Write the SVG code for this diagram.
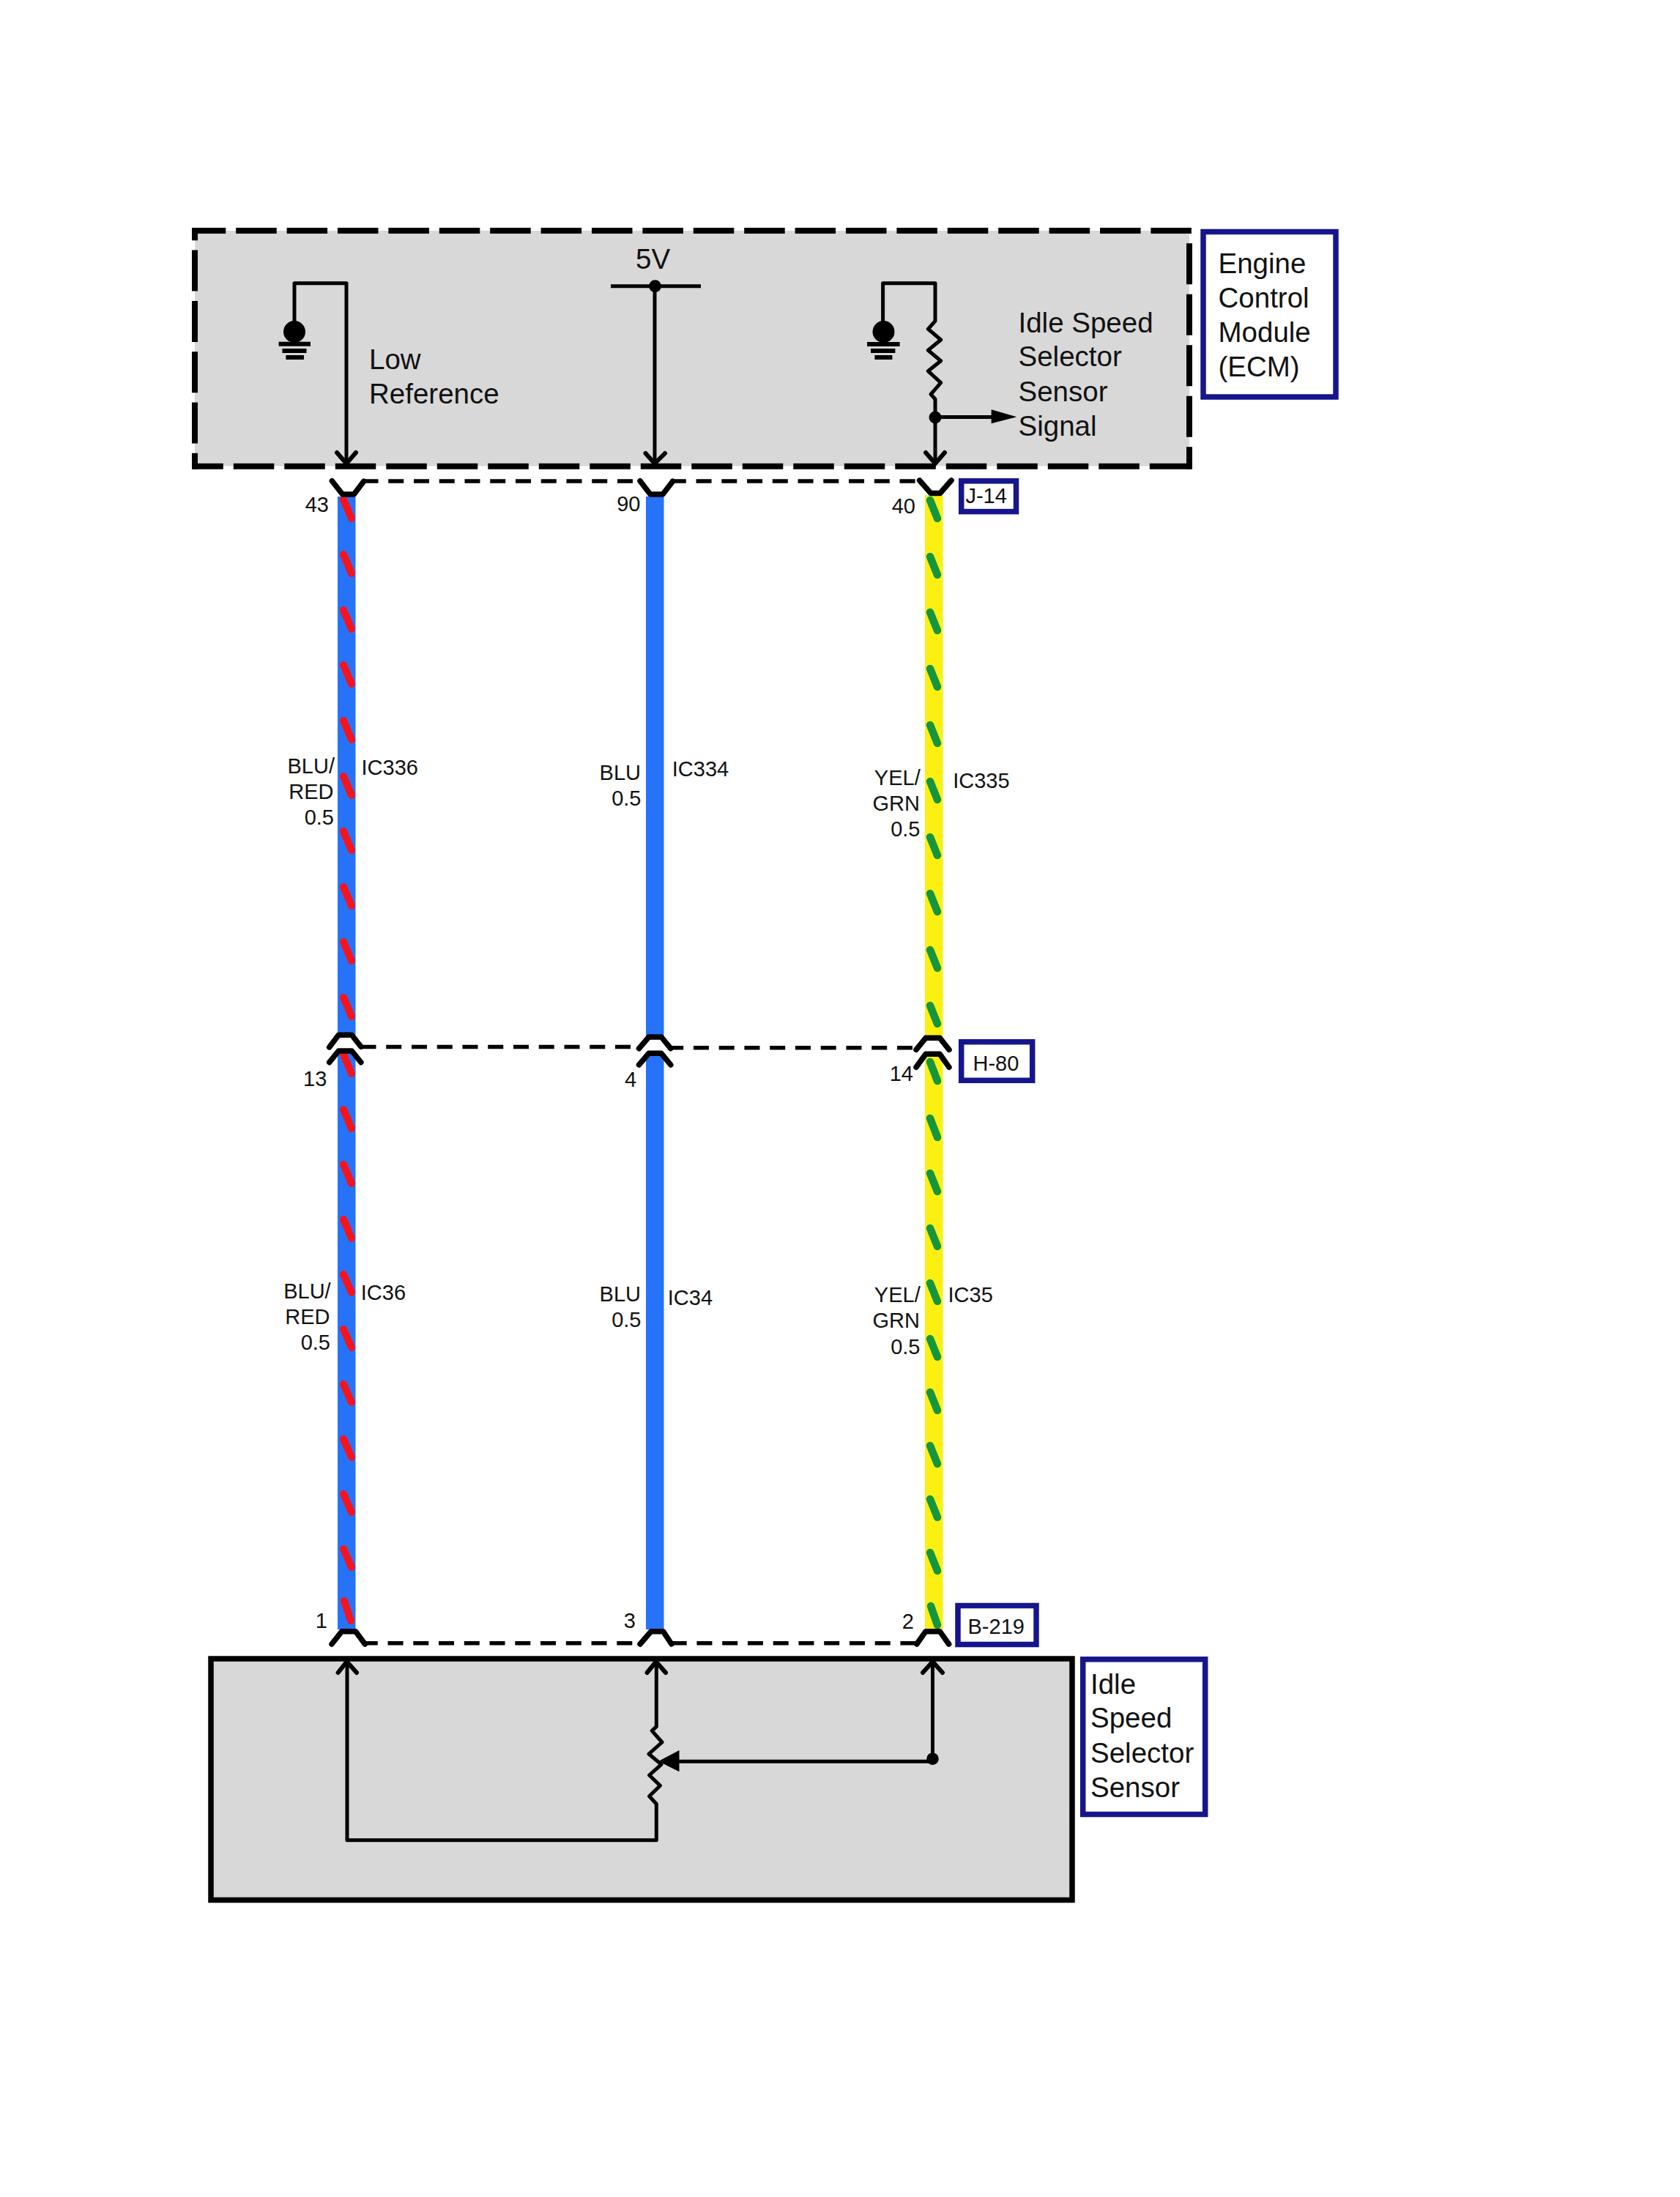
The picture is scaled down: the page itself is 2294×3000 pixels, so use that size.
<svg xmlns="http://www.w3.org/2000/svg" width="2294" height="3000" viewBox="0 0 2294 3000">
<style>
text{font-family:"Liberation Sans",Arial,sans-serif;fill:#111}
.lg{font-size:38.5px}
.sm{font-size:29px}
.e{text-anchor:end}
.ln{fill:none;stroke:#000;stroke-width:5;stroke-linejoin:round}
.hd{fill:none;stroke:#000;stroke-width:6;stroke-linecap:round;stroke-linejoin:miter}
.ch{fill:none;stroke:#000;stroke-width:7.5;stroke-linecap:round;stroke-linejoin:round}
.ds{fill:none;stroke:#000;stroke-width:5.5;stroke-dasharray:21 13.75}
.bd{fill:none;stroke:#000;stroke-width:8}
.tag{fill:#fff;stroke:#16168c;stroke-width:7.5}
.blue{fill:#2673fa}
.yel{fill:#fbf011}
.r{stroke:#f5141e;stroke-width:10;stroke-linecap:round}
.g{stroke:#15963c;stroke-width:10.5;stroke-linecap:round}
</style>
<rect width="2294" height="3000" fill="#fff"/>

<g id="connectors">
<g id="wire-1">
<rect class="blue" x="461" y="678" width="24.5" height="736"/>
<rect class="blue" x="461" y="1435" width="24.5" height="790"/>
<path class="r" d="M469 682L480 708M469 757L480 783M469 833L480 859M469 908L480 934M469 984L480 1010M469 1060L480 1086M469 1135L480 1161M469 1211L480 1237M469 1286L480 1312M469 1362L480 1388"/>
<path class="r" d="M469 1440L480 1466M469 1515L480 1541M469 1590L480 1616M469 1665L480 1691M469 1740L480 1765M469 1815L480 1840M469 1890L480 1915M469 1965L480 1990M469 2040L480 2065M469 2115L480 2140M470 2186L479 2213"/>
</g>
<g id="wire-2">
<rect class="blue" x="882" y="678" width="24.5" height="738"/>
<rect class="blue" x="882" y="1438" width="24.5" height="787"/>
</g>
<g id="wire-3">
<rect class="yel" x="1263" y="676" width="24.5" height="741"/>
<rect class="yel" x="1263" y="1439" width="24.5" height="786"/>
<path class="g" d="M1270 683L1280 708M1270 760L1280 785M1270 836L1280 861M1270 913L1280 938M1270 990L1280 1015M1270 1067L1280 1092M1270 1143L1280 1168M1270 1220L1280 1245M1270 1297L1280 1322M1270 1373L1280 1398"/>
<path class="g" d="M1270 1450L1280 1476M1270 1527L1280 1553M1270 1602L1280 1627M1270 1677L1280 1702M1270 1752L1280 1777M1270 1828L1280 1853M1270 1901L1280 1926M1270 1974L1280 1999M1270 2047L1280 2072M1270 2120L1280 2145M1271 2193L1280 2219"/>
</g>
</g>

<g id="ecm">
<rect x="266" y="315" width="1358" height="321.5" fill="#d8d8d8"/>
<line class="bd" x1="262.3" y1="315" x2="1628" y2="315" stroke-dasharray="55.5 13.9" stroke-dashoffset="9.5"/>
<line class="bd" x1="262.3" y1="636.7" x2="1628" y2="636.7" stroke-dasharray="55.5 14" stroke-dashoffset="13"/>
<line class="bd" x1="266" y1="311" x2="266" y2="640.7" stroke-dasharray="56 13.3" stroke-dashoffset="38.7"/>
<line class="bd" x1="1624" y1="332.3" x2="1624" y2="640.7" stroke-dasharray="56 13.5"/>

<path class="ln" d="M402 445V386.7H473V632"/>
<path class="hd" d="M460 618L473 633L486 618"/>
<circle cx="402" cy="453" r="15"/>
<rect x="380.6" y="466.7" width="43.4" height="6"/>
<rect x="385.5" y="476" width="33" height="6"/>
<rect x="390.4" y="485" width="24.6" height="6"/>
<text class="lg" x="504" y="504.3">Low</text>
<text class="lg" x="504" y="551">Reference</text>

<text class="lg" x="868" y="367">5V</text>
<path class="ln" d="M834 390.7H957M894 390.7V632"/>
<circle cx="894.5" cy="390.7" r="8.5"/>
<path class="hd" d="M881.5 619L894 633L908 619"/>

<path class="ln" d="M1205.6 445V386.7H1277V438.3L1267.3 449.3L1284.7 464L1267.3 478.3L1284.7 492.7L1267.3 506.7L1284.7 522.7L1271 538.3L1277 545V632"/>
<circle cx="1206.5" cy="453" r="15"/>
<rect x="1184" y="467" width="44.6" height="6"/>
<rect x="1189" y="476" width="33.4" height="6"/>
<rect x="1194.4" y="485" width="24" height="6"/>
<circle cx="1277" cy="570" r="8.5"/>
<path class="ln" d="M1277 569.5H1356"/>
<polygon points="1353.6,559.3 1388.3,569.3 1353.6,578.3"/>
<path class="hd" d="M1264 618L1277 633L1290 618"/>
<text class="lg" x="1390.5" y="453.7">Idle Speed</text>
<text class="lg" x="1390.5" y="500.3">Selector</text>
<text class="lg" x="1390.5" y="547.7">Sensor</text>
<text class="lg" x="1390.5" y="595">Signal</text>
</g>

<g id="ecm-label">
<rect class="tag" x="1643" y="316.5" width="181" height="225.5"/>
<text class="lg" x="1663.5" y="372.7">Engine</text>
<text class="lg" x="1663.5" y="420">Control</text>
<text class="lg" x="1663.5" y="467">Module</text>
<text class="lg" x="1663.5" y="514.3">(ECM)</text>
</g>

<g id="J-14">
<path class="ch" d="M453.4 656.7L467.7 675H483.3L496.7 657.3"/>
<path class="ch" d="M874 656.7L888 675H905L918.6 657.3"/>
<path class="ch" d="M1255.6 656L1271 673.5H1283.7L1299 656"/>
<line class="ds" x1="495.5" y1="657" x2="872" y2="657"/>
<line class="ds" x1="915.8" y1="657" x2="1253" y2="657"/>
<rect class="tag" x="1312.7" y="656.8" width="74.8" height="41.8"/>
<text class="sm" x="1318.4" y="686.7">J-14</text>
<text class="sm e" x="449" y="699.3">43</text>
<text class="sm e" x="874.5" y="697.7">90</text>
<text class="sm e" x="1250" y="701">40</text>
</g>

<g id="H-80">
<path class="ch" d="M449.7 1430L462.3 1413.3H480.3L492.9 1429.3"/>
<path class="ch" d="M449.7 1450.7L462.3 1435H480.3L492.9 1450.7"/>
<path class="ch" d="M872.5 1431.7L886 1416H903L915.8 1431.7"/>
<path class="ch" d="M872.5 1454L886 1438.3H903L915.8 1454"/>
<path class="ch" d="M1251 1433.3L1264 1417.3H1283.3L1296 1433.3"/>
<path class="ch" d="M1251 1457.3L1264 1439.3H1283.3L1296 1457.3"/>
<line class="ds" x1="492.5" y1="1429.5" x2="870" y2="1429.5"/>
<line class="ds" x1="912.2" y1="1430.7" x2="1248" y2="1430.7"/>
<rect class="tag" x="1312.7" y="1422.7" width="97" height="52.6"/>
<text class="sm" x="1328.5" y="1461.7">H-80</text>
<text class="sm e" x="446.3" y="1482.7">13</text>
<text class="sm e" x="869.2" y="1484.3">4</text>
<text class="sm e" x="1247" y="1476">14</text>
</g>

<g id="B-219">
<path class="ch" d="M453 2245L466.7 2227.7H485.6L498.4 2245"/>
<path class="ch" d="M874 2245L889 2227.7H905.5L917 2245"/>
<path class="ch" d="M1251.8 2245L1264 2227.7H1283.3L1295.6 2245"/>
<line class="ds" x1="494.8" y1="2243.7" x2="866" y2="2243.7"/>
<line class="ds" x1="916.7" y1="2243.7" x2="1252" y2="2243.7"/>
<rect class="tag" x="1308" y="2192.5" width="107" height="53"/>
<text class="sm" x="1321.5" y="2231">B-219</text>
<text class="sm e" x="447" y="2222.7">1</text>
<text class="sm e" x="868" y="2223">3</text>
<text class="sm e" x="1248" y="2224">2</text>
</g>

<g id="wire-labels">
<text class="sm e" x="457" y="1056">BLU/</text>
<text class="sm e" x="455.5" y="1091">RED</text>
<text class="sm e" x="456" y="1126">0.5</text>
<text class="sm" x="493.5" y="1058.3">IC336</text>
<text class="sm e" x="875" y="1065.3">BLU</text>
<text class="sm e" x="875.5" y="1100.3">0.5</text>
<text class="sm" x="917.8" y="1060.3">IC334</text>
<text class="sm e" x="1256.7" y="1072">YEL/</text>
<text class="sm e" x="1256" y="1106.7">GRN</text>
<text class="sm e" x="1256.5" y="1142">0.5</text>
<text class="sm" x="1301.2" y="1076.3">IC335</text>
<text class="sm e" x="451.7" y="1772.7">BLU/</text>
<text class="sm e" x="450.5" y="1807.7">RED</text>
<text class="sm e" x="451" y="1842.7">0.5</text>
<text class="sm" x="492.8" y="1775">IC36</text>
<text class="sm e" x="875" y="1777">BLU</text>
<text class="sm e" x="875.5" y="1812">0.5</text>
<text class="sm" x="911.8" y="1781.7">IC34</text>
<text class="sm e" x="1256.7" y="1778.3">YEL/</text>
<text class="sm e" x="1256" y="1813.3">GRN</text>
<text class="sm e" x="1256.5" y="1848.7">0.5</text>
<text class="sm" x="1294.5" y="1777.7">IC35</text>
</g>

<g id="sensor">
<rect x="288" y="2265" width="1176" height="329.5" fill="#d8d8d8" stroke="#000" stroke-width="7.5"/>
<path class="ln" d="M474 2270V2512.7H896.3V2463.3L886.6 2452.7L901.4 2438.3L886.6 2424L903 2409.3L886 2395L904 2379L890.2 2363.3L896.3 2357.7V2270"/>
<path class="hd" d="M461.6 2284L473.6 2269L487 2284"/>
<path class="hd" d="M883.6 2284L895.8 2269L909 2284"/>
<polygon points="899,2405 927.5,2390 927.5,2419.3"/>
<path class="ln" d="M925 2405.3H1273.5V2270"/>
<circle cx="1273.5" cy="2401.7" r="8.3"/>
<path class="hd" d="M1260 2284L1273.5 2269L1287 2284"/>
</g>

<g id="sensor-label">
<rect class="tag" x="1478.7" y="2265.8" width="167" height="211.7"/>
<text class="lg" x="1489" y="2312.7">Idle</text>
<text class="lg" x="1489" y="2359.3">Speed</text>
<text class="lg" x="1489" y="2406.7">Selector</text>
<text class="lg" x="1489" y="2453.7">Sensor</text>
</g>
</svg>
